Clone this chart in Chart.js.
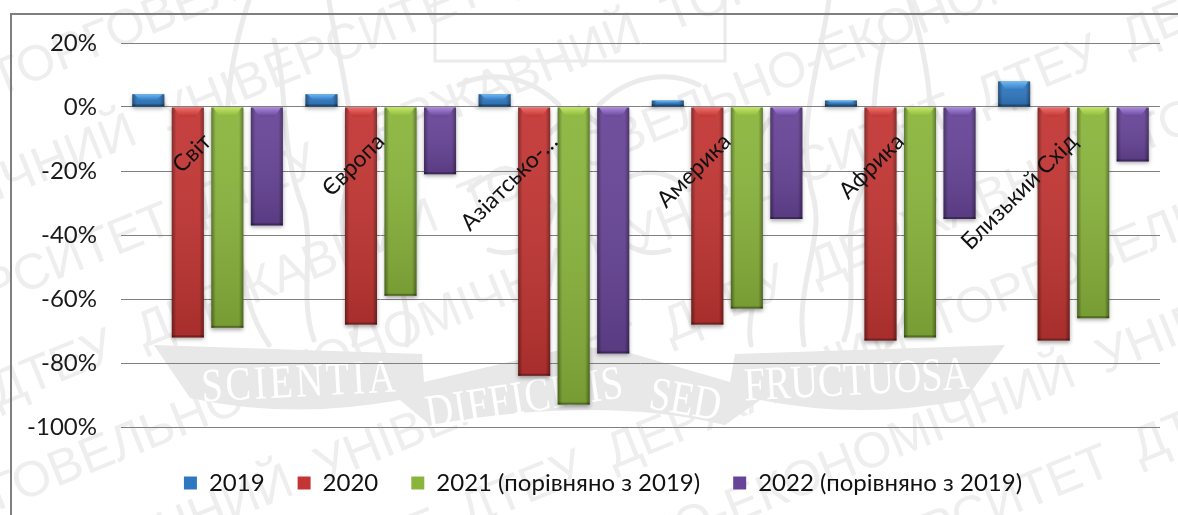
<!DOCTYPE html>
<html lang="uk">
<head>
<meta charset="utf-8">
<title>Зміна туристичних прибуттів</title>
<script src="https://cdn.jsdelivr.net/npm/chart.js@4"></script>
<style>
  html, body { margin: 0; background: #fff; }
  canvas { display: block; }
</style>
</head>
<body>
<canvas id="arrivals-chart" width="1178" height="515"></canvas>
<script>
const regions = ['Світ', 'Європа', 'Азіатсько-…', 'Америка', 'Африка', 'Близький Схід'];
const values2019 = [4, 4, 4, 2, 2, 8];
const values2020 = [-72, -68, -84, -68, -73, -73];
const values2021 = [-69, -59, -93, -63, -72, -66];
const values2022 = [-37, -21, -77, -35, -35, -17];

const FONT = 'Lato, Carlito, "Open Sans", sans-serif';

const stampRows = [
  'ДТЕУ  ДЕРЖАВНИЙ  ТОРГОВЕЛЬНО-ЕКОНОМІЧНИЙ  УНІВЕРСИТЕТ  ДТЕУ  ДЕРЖАВНИЙ',
  'ТОРГОВЕЛЬНО-ЕКОНОМІЧНИЙ  УНІВЕРСИТЕТ  ДТЕУ  ДЕРЖАВНИЙ  ТОРГОВЕЛЬНО',
  'ЕКОНОМІЧНИЙ  УНІВЕРСИТЕТ  ДТЕУ  ДЕРЖАВНИЙ  ТОРГОВЕЛЬНО-ЕКОНОМІЧНИЙ'
];
const mottoParts = [
  { text: 'SCIENTIA', x: 300, y: 384, rot: -3, gap: 3 },
  { text: 'DIFFICILIS', x: 525, y: 400, rot: -9, gap: 1 },
  { text: 'SED', x: 685, y: 402, rot: 10, gap: 0 },
  { text: 'FRUCTUOSA', x: 857, y: 382, rot: -3, gap: 0 }
];
// two standing figures of the crest, left one mirrored for the right side
const crestFigures = [
  'M-330 0 C-350 60 -360 130 -345 210 C-335 260 -340 300 -310 345',
  'M-250 0 C-240 70 -215 130 -235 200 C-245 240 -215 290 -225 345',
  'M-305 40 C-290 90 -300 150 -275 210 C-265 250 -280 300 -265 340',
  'M-190 120 C-170 150 -165 190 -178 230 C-190 270 -165 310 -172 345',
  'M-45 150 C-20 120 -5 115 0 108 C5 115 20 120 45 150',
  'M-120 85 C-90 70 -50 75 -20 105',
  'M-110 190 C-80 160 -40 170 -25 205 C-30 240 -60 260 -90 250'
];

// university stamp behind the plot: crest, ribbon, motto and diagonal text
const backdrop = {
  id: 'backdrop',
  beforeDraw(chart) {
    const ctx = chart.ctx;
    ctx.save();
    ctx.fillStyle = '#fff';
    ctx.fillRect(0, 0, chart.width, chart.height);

    ctx.fillStyle = '#eeeeee';
    ctx.font = '50px "Liberation Sans", sans-serif';
    ctx.translate(589, 257);
    ctx.rotate(-22 * Math.PI / 180);
    for (let i = -5; i <= 5; i++) {
      const row = stampRows[(i + 6) % stampRows.length];
      ctx.fillText(row + '  ' + row, -1250 + i * 130, i * 96);
    }
    ctx.setTransform(1, 0, 0, 1, 0, 0);

    ctx.strokeStyle = '#ebebeb';
    ctx.lineWidth = 3;
    ctx.strokeRect(435, -4, 290, 65);
    ctx.lineWidth = 5;
    ctx.lineCap = 'round';
    [1, -1].forEach(side => {
      ctx.setTransform(side, 0, 0, 1, 579, 0);
      crestFigures.forEach(d => ctx.stroke(new Path2D(d)));
    });
    ctx.setTransform(1, 0, 0, 1, 0, 0);

    // ribbon
    ctx.fillStyle = '#e8e8e8';
    ctx.beginPath();
    ctx.moveTo(154, 345);
    ctx.lineTo(422, 354);
    ctx.lineTo(424, 382);
    ctx.lineTo(560, 350);
    ctx.quadraticCurveTo(590, 345, 620, 350);
    ctx.lineTo(730, 382);
    ctx.lineTo(735, 354);
    ctx.lineTo(1005, 345);
    ctx.lineTo(965, 400);
    ctx.quadraticCurveTo(860, 420, 760, 400);
    ctx.lineTo(725, 425);
    ctx.quadraticCurveTo(600, 395, 430, 425);
    ctx.lineTo(400, 400);
    ctx.quadraticCurveTo(290, 420, 190, 398);
    ctx.closePath();
    ctx.fill();

    ctx.fillStyle = '#fff';
    ctx.font = '38px "Liberation Serif", serif';
    ctx.textAlign = 'center';
    ctx.textBaseline = 'middle';
    mottoParts.forEach(p => {
      ctx.save();
      ctx.translate(p.x, p.y);
      ctx.rotate(p.rot * Math.PI / 180);
      ctx.scale(1, 1.25);
      ctx.letterSpacing = p.gap + 'px';
      ctx.fillText(p.text, 0, 0);
      ctx.restore();
    });

    // frame, only its top and left edges fall inside the page
    ctx.strokeStyle = '#7f7f7f';
    ctx.lineWidth = 2;
    ctx.beginPath();
    ctx.moveTo(11, 515);
    ctx.lineTo(11, 14);
    ctx.lineTo(1178, 14);
    ctx.stroke();
    ctx.restore();
  }
};

// soft shadow under the bars and a bevelled, glossy finish on top
const bevel = {
  id: 'bevel',
  beforeDatasetDraw(chart) {
    const ctx = chart.ctx;
    ctx.save();
    ctx.shadowColor = 'rgba(0,0,0,0.35)';
    ctx.shadowBlur = 4;
    ctx.shadowOffsetY = 2;
  },
  afterDatasetDraw(chart, args) {
    const ctx = chart.ctx;
    ctx.restore();
    const ds = chart.data.datasets[args.index];
    args.meta.data.forEach(bar => {
      const left = bar.x - bar.width / 2;
      const right = bar.x + bar.width / 2;
      const top = Math.min(bar.y, bar.base);
      const bottom = Math.max(bar.y, bar.base);
      const cap = Math.min(9, (bottom - top) / 2);
      ctx.save();

      const sides = ctx.createLinearGradient(left, 0, right, 0);
      sides.addColorStop(0, 'rgba(0,0,0,0.38)');
      sides.addColorStop(0.14, 'rgba(0,0,0,0)');
      sides.addColorStop(0.86, 'rgba(0,0,0,0)');
      sides.addColorStop(1, 'rgba(0,0,0,0.38)');
      ctx.fillStyle = sides;
      ctx.fillRect(left, top, bar.width, bottom - top);

      const depth = ctx.createLinearGradient(0, top, 0, bottom);
      depth.addColorStop(0, 'rgba(255,255,255,0.06)');
      depth.addColorStop(1, 'rgba(0,0,0,0.14)');
      ctx.fillStyle = depth;
      ctx.fillRect(left, top, bar.width, bottom - top);

      const shine = ctx.createLinearGradient(0, top, 0, top + cap);
      shine.addColorStop(0, ds.capColor);
      shine.addColorStop(1, ds.backgroundColor);
      ctx.fillStyle = shine;
      ctx.beginPath();
      ctx.moveTo(left + 2, top);
      ctx.lineTo(right - 2, top);
      ctx.lineTo(right - 8, top + cap);
      ctx.lineTo(left + 8, top + cap);
      ctx.closePath();
      ctx.fill();

      ctx.fillStyle = 'rgba(0,0,0,0.3)';
      ctx.fillRect(left, bottom - 2, bar.width, 2);
      ctx.restore();
    });
  }
};

// the legend sits a little right of the page centre and below its default row
const legendShift = {
  id: 'legendShift',
  afterLayout(chart) {
    chart.legend.left += 9;
    chart.legend.right += 9;
    chart.legend.top += 11;
    chart.legend.bottom += 11;
  }
};

const ctx = document.getElementById('arrivals-chart');

const series = (label, data, color, capColor) => ({
  label, data, capColor,
  backgroundColor: color,
  borderWidth: 0,
  categoryPercentage: 0.913,
  barPercentage: 0.81
});

new Chart(ctx, {
  type: 'bar',
  data: {
    labels: regions,
    datasets: [
      series('2019', values2019, '#2f78c0', '#6fb8f2'),
      series('2020', values2020, '#c23533', '#ee6f6a'),
      series('2021 (порівняно з 2019)', values2021, '#8ab53c', '#c2e664'),
      series('2022 (порівняно з 2019)', values2022, '#674497', '#a888dc')
    ]
  },
  plugins: [backdrop, bevel, legendShift],
  options: {
    responsive: false,
    animation: false,
    layout: { padding: { top: 43, left: 28, right: 18, bottom: 21 } },
    plugins: {
      tooltip: { enabled: false },
      legend: {
        position: 'bottom',
        labels: {
          boxWidth: 13,
          boxHeight: 13,
          padding: 33,
          color: '#111',
          font: { family: FONT, size: 24 }
        }
      }
    },
    scales: {
      x: {
        position: { y: 0 },
        grid: { display: false },
        border: { display: false },
        ticks: {
          z: 1,
          autoSkip: false,
          minRotation: 45,
          maxRotation: 45,
          padding: 13,
          color: '#111',
          font: { family: FONT, size: 23 }
        }
      },
      y: {
        min: -100,
        max: 20,
        afterFit(scale) { scale.width = 93; },
        grid: { color: '#808080', drawTicks: false },
        border: { display: false },
        ticks: {
          stepSize: 20,
          padding: 24,
          color: '#1a1a1a',
          font: { family: FONT, size: 24 },
          callback: v => v + '%'
        }
      }
    }
  }
});
</script>
</body>
</html>
